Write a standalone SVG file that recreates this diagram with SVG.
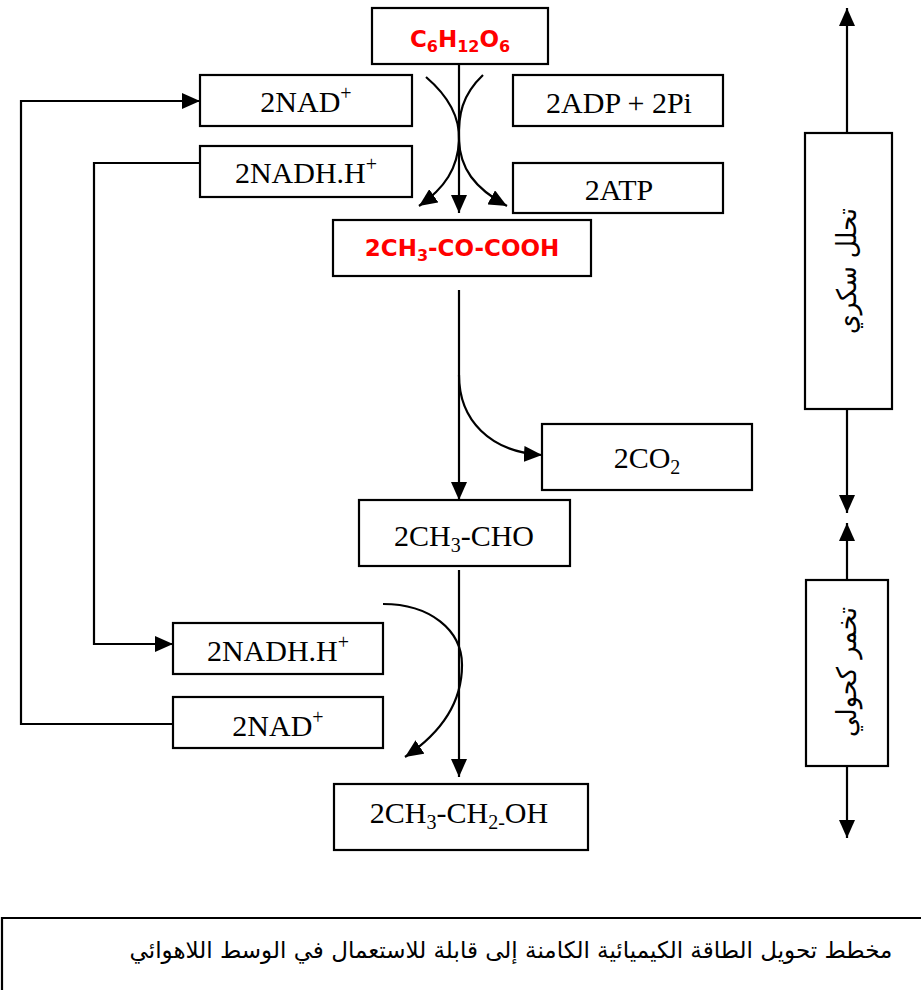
<svg xmlns="http://www.w3.org/2000/svg" width="921" height="990" viewBox="0 0 921 990">
<style>
.box{fill:#fff;stroke:#000;stroke-width:2.2}
.ln{fill:none;stroke:#000;stroke-width:2.2}
.lbl{font-family:"Liberation Serif","Times New Roman",serif;font-size:30px;fill:#000;text-anchor:middle}
.red{font-family:"DejaVu Sans",Verdana,sans-serif;font-weight:bold;font-size:23px;fill:#ff0000;text-anchor:middle}
.ar{font-family:"DejaVu Sans","Noto Sans",sans-serif;font-size:27px;fill:#000;text-anchor:middle}
.cap{font-family:"DejaVu Sans","Noto Sans",sans-serif;font-size:23px;fill:#000;text-anchor:middle}
</style>
<defs>
<marker id="ah" viewBox="0 0 18 16" refX="18" refY="8" markerWidth="18" markerHeight="16" markerUnits="userSpaceOnUse" orient="auto">
<path d="M0,0 L18,8 L0,16 z" fill="#000"/>
</marker>
</defs>
<rect width="921" height="990" fill="#fff"/>

<g id="connectors">
<path class="ln" d="M459,64 L459,213" marker-end="url(#ah)"/>
<path class="ln" d="M426,77 C447,95 460,115 459,140 C458,168 445,188 419,206" marker-end="url(#ah)"/>
<path class="ln" d="M483,75 C462,95 458,115 459,140 C460,168 474,188 507,206" marker-end="url(#ah)"/>
<path class="ln" d="M459,290 L459,500" marker-end="url(#ah)"/>
<path class="ln" d="M459,375 C459,420 490,452 542,455" marker-end="url(#ah)"/>
<path class="ln" d="M459,570 L459,777" marker-end="url(#ah)"/>
<path class="ln" d="M383,604 C430,604 462,630 462,665 C462,705 438,735 405,757" marker-end="url(#ah)"/>
<path class="ln" d="M174,724 L21,724 L21,101 L200,101" marker-end="url(#ah)"/>
<path class="ln" d="M200,163 L94,163 L94,644 L173,644" marker-end="url(#ah)"/>
<path class="ln" d="M847,133 L847,8" marker-end="url(#ah)"/>
<path class="ln" d="M847,409 L847,513" marker-end="url(#ah)"/>
<path class="ln" d="M847,580 L847,523" marker-end="url(#ah)"/>
<path class="ln" d="M847,766 L847,838" marker-end="url(#ah)"/>
</g>

<g id="glucose">
<rect class="box" x="372" y="8" width="176" height="56"/>
<text class="red" x="460" y="47">C<tspan font-size="16" dy="5">6</tspan><tspan dy="-5">H</tspan><tspan font-size="16" dy="5">12</tspan><tspan dy="-5">O</tspan><tspan font-size="16" dy="5">6</tspan></text>
</g>

<g id="nad-top">
<rect class="box" x="200" y="75" width="212" height="51"/>
<text class="lbl" x="306" y="112">2NAD<tspan font-size="20" dy="-12">+</tspan></text>
</g>

<g id="nadh-top">
<rect class="box" x="200" y="146" width="212" height="51"/>
<text class="lbl" x="306" y="183">2NADH.H<tspan font-size="20" dy="-12">+</tspan></text>
</g>

<g id="adp">
<rect class="box" x="513" y="75" width="210" height="51"/>
<text class="lbl" x="619" y="113">2ADP + 2Pi</text>
</g>

<g id="atp">
<rect class="box" x="513" y="163" width="210" height="50"/>
<text class="lbl" x="619" y="200">2ATP</text>
</g>

<g id="pyruvate">
<rect class="box" x="333" y="220" width="258" height="56"/>
<text class="red" x="462" y="256">2CH<tspan font-size="16" dy="5">3</tspan><tspan dy="-5">-CO-COOH</tspan></text>
</g>

<g id="co2">
<rect class="box" x="542" y="424" width="210" height="66"/>
<text class="lbl" x="647" y="468">2CO<tspan font-size="20" dy="6">2</tspan></text>
</g>

<g id="acetaldehyde">
<rect class="box" x="359" y="500" width="211" height="66"/>
<text class="lbl" x="464" y="546">2CH<tspan font-size="20" dy="6">3</tspan><tspan dy="-6">-CHO</tspan></text>
</g>

<g id="nadh-bottom">
<rect class="box" x="173" y="623" width="210" height="51"/>
<text class="lbl" x="278" y="661">2NADH.H<tspan font-size="20" dy="-12">+</tspan></text>
</g>

<g id="nad-bottom">
<rect class="box" x="173" y="697" width="210" height="51"/>
<text class="lbl" x="278" y="736">2NAD<tspan font-size="20" dy="-12">+</tspan></text>
</g>

<g id="ethanol">
<rect class="box" x="334" y="784" width="254" height="66"/>
<text class="lbl" x="459" y="823">2CH<tspan font-size="20" dy="6">3</tspan><tspan dy="-6">-CH</tspan><tspan font-size="20" dy="6">2-</tspan><tspan dy="-6">OH</tspan></text>
</g>

<g id="glycolysis">
<rect class="box" x="805" y="133" width="87" height="276"/>
<text class="ar" transform="translate(856,271) rotate(-90)" x="0" y="0" textLength="126" lengthAdjust="spacingAndGlyphs">تحلل سكري</text>
</g>

<g id="fermentation">
<rect class="box" x="806" y="580" width="82" height="186"/>
<text class="ar" transform="translate(856,672) rotate(-90)" x="0" y="0" textLength="130" lengthAdjust="spacingAndGlyphs">تخمر كحولي</text>
</g>

<g id="caption">
<path class="ln" d="M921,918 L2,918 L2,990"/>
<text class="cap" x="511" y="958">مخطط تحويل الطاقة الكيميائية الكامنة إلى قابلة للاستعمال في الوسط اللاهوائي</text>
</g>
</svg>
